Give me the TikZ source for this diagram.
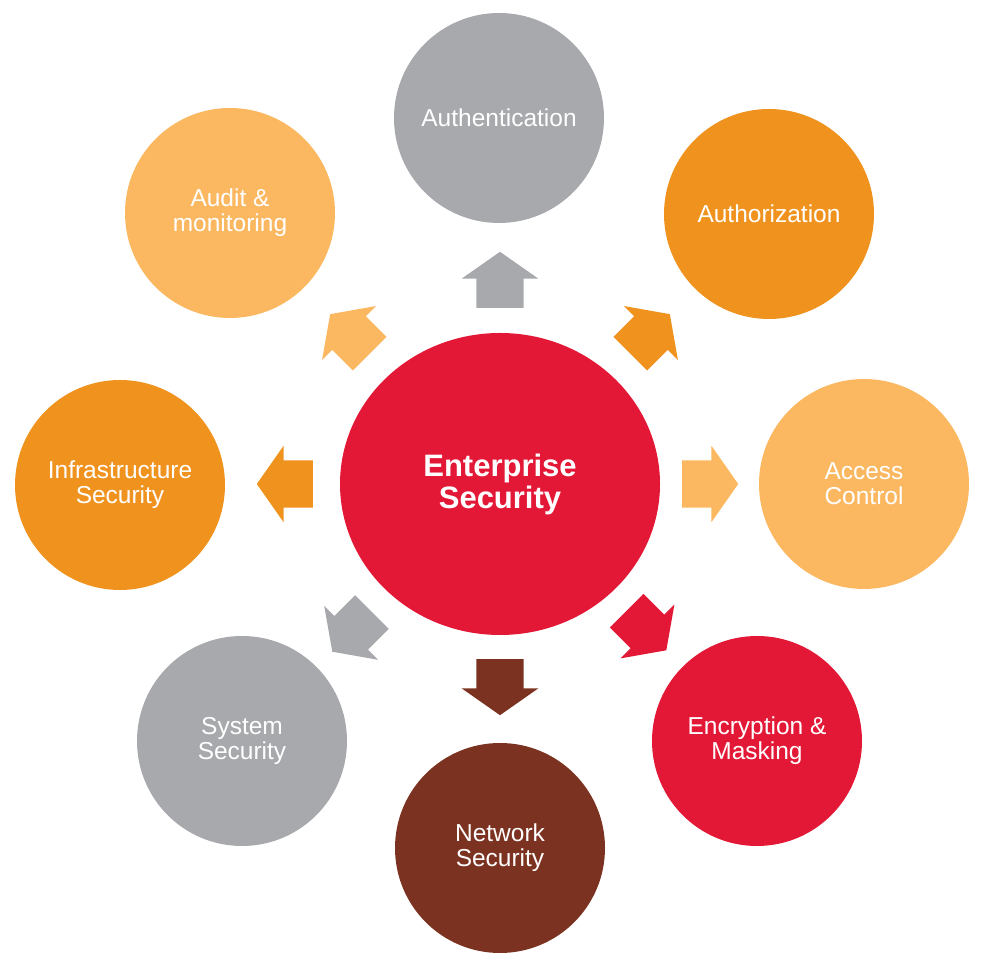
\documentclass[tikz,border=0pt]{standalone}
\usepackage{fontspec}
\setmainfont{Liberation Sans}
\usepackage{xcolor}
\usepackage{tikz}
\usetikzlibrary{shapes.geometric,shapes.arrows,calc}

\definecolor{secgray}{HTML}{A7A9AC}
\definecolor{secorange}{HTML}{F0931E}
\definecolor{seclight}{HTML}{FBB861}
\definecolor{secred}{HTML}{E31837}
\definecolor{secbrown}{HTML}{7B3220}

\begin{document}
\begin{tikzpicture}[x=1pt,y=1pt,
  hub/.style={ellipse,fill=secred,minimum width=320pt,minimum height=302pt,inner sep=0pt,
    text=white,align=center,font=\bfseries\fontsize{31}{32}\selectfont},
  topic/.style={circle,minimum size=210pt,inner sep=0pt,text=white,align=center,
    font=\fontsize{24.5}{25}\selectfont},
  spoke/.style={single arrow,minimum height=56pt,minimum width=76pt,
    single arrow head extend=14.5pt,single arrow tip angle=110,
    inner xsep=0pt,inner ysep=23.5pt,anchor=tail}]
  \useasboundingbox (0,0) rectangle (1001,960);
  % Hub in the middle
  \node[hub] (es) at (500,476) {Enterprise\\Security};
  % Topics round the hub
  \node[topic,fill=secgray] (authn) at (499,842) {Authentication};
  \node[topic,fill=secorange] (authz) at (769,746) {Authorization};
  \node[topic,fill=seclight] (access) at (864,476) {Access\\Control};
  \node[topic,fill=secred] (encr) at (757,219) {Encryption \&\\Masking};
  \node[topic,fill=secbrown] (netw) at (500,112) {Network\\Security};
  \node[topic,fill=secgray] (sys) at (242,219) {System\\Security};
  \node[topic,fill=secorange] (infra) at (120,475) {Infrastructure\\Security};
  \node[topic,fill=seclight] (audit) at (230,747) {Audit \&\\monitoring};
  % Block arrows from the hub outwards
  \node[spoke,fill=secgray,rotate=90] (s1) at ($(es.center)+(90:176)$) {};
  \node[spoke,fill=secorange,rotate=45] (s2) at ($(es.center)+(45:184)$) {};
  \node[spoke,fill=seclight,rotate=0] (s3) at ($(es.center)+(0:182)$) {};
  \node[spoke,fill=secred,rotate=-45] (s4) at ($(es.center)+(-45:179)$) {};
  \node[spoke,fill=secbrown,rotate=-90] (s5) at ($(es.center)+(-90:175)$) {};
  \node[spoke,fill=secgray,rotate=-135] (s6) at ($(es.center)+(-135:181)$) {};
  \node[spoke,fill=secorange,rotate=180] (s7) at ($(es.center)+(180:187)$) {};
  \node[spoke,fill=seclight,rotate=135] (s8) at ($(es.center)+(135:184)$) {};
\end{tikzpicture}
\end{document}
